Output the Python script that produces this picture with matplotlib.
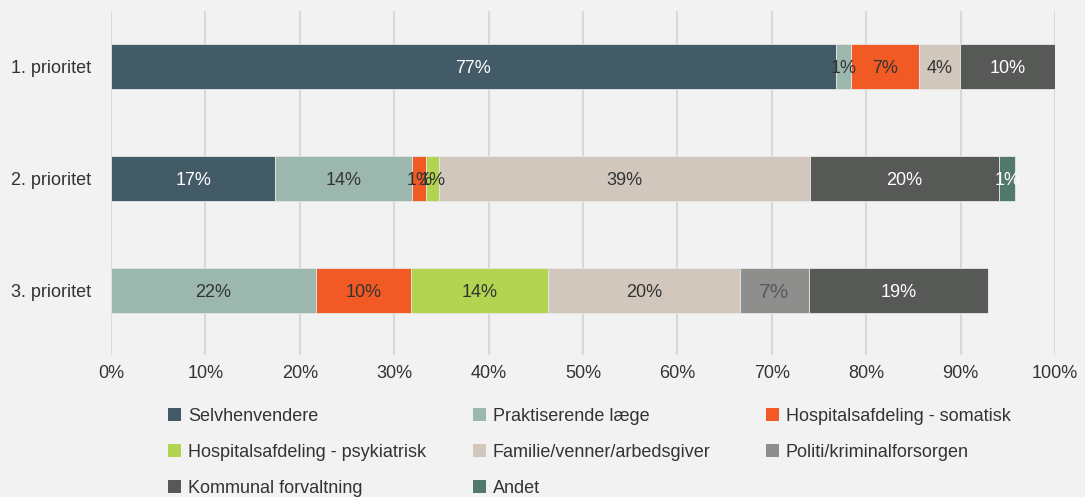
import numpy as np
import matplotlib
matplotlib.use("Agg")
from matplotlib import pyplot as plt
from matplotlib.patches import Patch

rows = ["1. prioritet", "2. prioritet", "3. prioritet"]
categories = ["Selvhenvendere", "Praktiserende læge", "Hospitalsafdeling - somatisk",
              "Hospitalsafdeling - psykiatrisk", "Familie/venner/arbedsgiver",
              "Politi/kriminalforsorgen", "Kommunal forvaltning", "Andet"]

# andel i procent pr. række (aflæst)
selvhenvendere = [76.8, 17.4, 0.0]
praktiserende = [1.6, 14.5, 21.7]
somatisk = [7.2, 1.5, 10.1]
psykiatrisk = [0.0, 1.3, 14.5]
familie = [4.3, 39.3, 20.3]
politi = [0.0, 0.0, 7.3]
kommunal = [10.1, 20.1, 19.0]
andet = [0.0, 1.7, 0.0]

labels = [
    ["77%", "17%", ""],
    ["1%", "14%", "22%"],
    ["7%", "1%", "10%"],
    ["", "1%", "14%"],
    ["4%", "39%", "20%"],
    ["", "", "7%"],
    ["10%", "20%", "19%"],
    ["", "1%", ""],
]

ticks = [0, 10, 20, 30, 40, 50, 60, 70, 80, 90, 100]

colors = ["#435a67", "#9cb8ae", "#f15a24", "#b2d450", "#d1c7bc", "#8e8e8c", "#575957", "#527a6a"]
text_colors = ["white", "#333333", "#333333", "#333333", "#333333", "#5a5a5a", "white", "white"]

plt.rcParams['font.family'] = ['Liberation Sans', 'DejaVu Sans']
bg = "#f2f2f2"
txt = "#333333"

fig = plt.figure(figsize=(10.85, 4.97), dpi=100, facecolor=bg)
ax = fig.add_axes([0.1023, 0.2857, 0.8700, 0.6922], facecolor=bg)

series = [selvhenvendere, praktiserende, somatisk, psykiatrisk, familie, politi, kommunal, andet]
y = np.arange(len(rows))
left = np.zeros(len(rows))
for i, vals in enumerate(series):
    vals = np.asarray(vals)
    ax.barh(y, vals, left=left, height=0.4, color=colors[i], edgecolor="#e6e6e6",
            linewidth=0.6, label=categories[i], zorder=3)
    for j in range(len(rows)):
        if labels[i][j]:
            fs = 15 if i == 5 else 13
            ax.text(left[j] + vals[j] / 2, y[j], labels[i][j], ha="center",
                    va="center_baseline", color=text_colors[i], fontsize=fs, zorder=4)
    left = left + vals

ax.set_xlim(0, 100)
ax.set_ylim(2.58, -0.5)
ax.set_xticks(ticks)
ax.set_xticklabels([f"{t}%" for t in ticks])
ax.set_yticks(y)
ax.set_yticklabels(rows)
ax.xaxis.grid(True, color="#d9d9d9", linewidth=1.5, zorder=0)
ax.set_axisbelow(True)
for s in ax.spines.values():
    s.set_visible(False)
ax.tick_params(axis="x", length=0, labelsize=13, colors=txt, pad=7)
ax.tick_params(axis="y", length=0, labelsize=13, colors=txt, pad=14)

# legend: three columns, filled row by row
col_x = [0.155, 0.436, 0.706]
for c in range(3):
    idx = list(range(c, len(categories), 3))
    handles = [Patch(facecolor=colors[k], edgecolor="none") for k in idx]
    leg = fig.legend(handles, [categories[k] for k in idx], loc="upper left",
                     bbox_to_anchor=(col_x[c], 0.179), frameon=False, fontsize=13,
                     handlelength=0.7, handleheight=0.7, handletextpad=0.4,
                     labelspacing=1.05, borderaxespad=0, borderpad=0)
    for t in leg.get_texts():
        t.set_color(txt)

fig.savefig("out.png", dpi=100, facecolor=bg)
